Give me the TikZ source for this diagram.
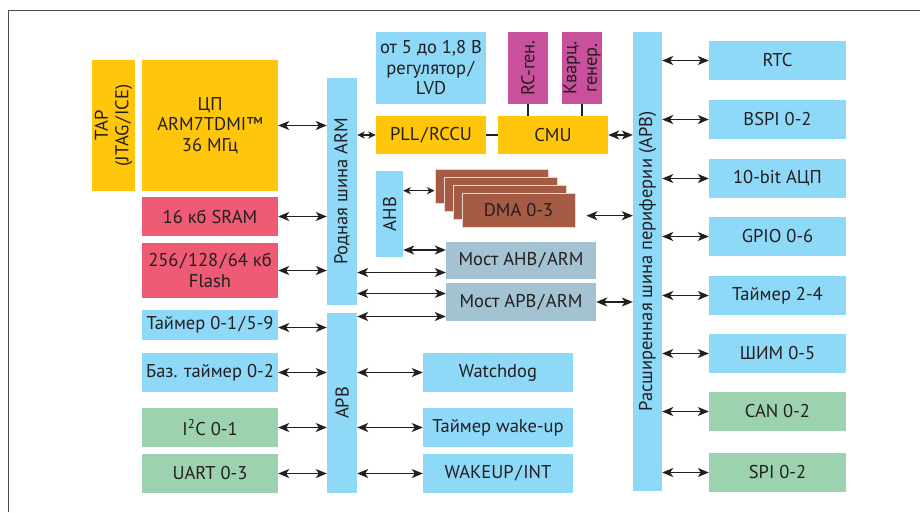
\documentclass[tikz,border=0pt]{standalone}
\usepackage{fontspec}
\setmainfont{PT Sans}
\usepackage{tikz}
\usetikzlibrary{arrows.meta}

\definecolor{busblue}{HTML}{8ED8F8}
\definecolor{cpuyellow}{HTML}{FFC60B}
\definecolor{genpink}{HTML}{C8509C}
\definecolor{memred}{HTML}{EF5B74}
\definecolor{dmabrown}{HTML}{A65B45}
\definecolor{bridgegray}{HTML}{A3C3D3}
\definecolor{iogreen}{HTML}{9CD3AE}
\definecolor{txtdark}{HTML}{231F20}
\definecolor{framegray}{HTML}{4A4A4A}

\newcommand{\slashsp}{\kern1.5pt/\kern1.5pt}

\tikzset{
  blk/.style={rectangle, inner sep=0pt, align=center, text=txtdark,
    font=\fontsize{18.5}{20.5}\selectfont},
  bluebox/.style={blk, fill=busblue},
  yelbox/.style={blk, fill=cpuyellow},
  redbox/.style={blk, fill=memred},
  greenbox/.style={blk, fill=iogreen},
  genbox/.style={blk, fill=genpink, rotate=90, minimum width=72pt, minimum height=40pt},
  dmabox/.style={blk, fill=dmabrown, draw=white!75!dmabrown, line width=0.8pt,
    minimum width=113pt, minimum height=34pt},
  bridgebox/.style={blk, fill=bridgegray, minimum width=150pt},
  periph/.style={bluebox, minimum width=137pt, minimum height=39pt},
  biarr/.style={{Stealth[length=11pt,width=9pt,inset=3pt]}-{Stealth[length=11pt,width=9pt,inset=3pt]},
    line width=1.3pt, draw=txtdark},
  smallbiarr/.style={{Stealth[length=7.5pt,width=7pt,inset=2pt]}-{Stealth[length=7.5pt,width=7pt,inset=2pt]},
    line width=1.3pt, draw=txtdark},
}

\begin{document}
\begin{tikzpicture}[x=1pt,y=-1pt]
  \useasboundingbox (0,0) rectangle (920,512);

  % Parameters
  \def\lw{136pt}   % width of left column boxes
  \def\rowh{39pt}  % height of one peripheral row

  % --- Frame ---
  \draw[line width=1.5pt, framegray] (8.5,512) -- (8.5,10.5) -- (920,10.5);

  % --- Core and memories ---
  % rotated nodes: north = left side, south = right side
  \node[yelbox, rotate=90, minimum width=131pt, minimum height=43pt] (tap) at (113.5,125.5)
    {TAP\\(JTAG\slashsp ICE)};
  \node[yelbox, minimum width=\lw, minimum height=131pt] (cpu) at (210,125.5)
    {ЦП\\ARM7TDMI™\\36 МГц};
  \node[redbox, minimum width=\lw, minimum height=\rowh] (sram) at (210,216.5) {16 кб SRAM};
  \node[redbox, minimum width=\lw, minimum height=55pt] (flash) at (210,270.5)
    {256\slashsp 128\slashsp 64 кб\\Flash};
  \node[bluebox, minimum width=\lw, minimum height=30pt] (tmr0) at (210,324.5) {Таймер 0-1\slashsp 5-9};
  \node[bluebox, minimum width=\lw, minimum height=\rowh] (basetmr) at (210,372.5) {Баз. таймер 0-2};
  \node[greenbox, minimum width=\lw, minimum height=\rowh] (i2c) at (210,427.5) {I\textsuperscript{2}C 0-1};
  \node[greenbox, minimum width=\lw, minimum height=\rowh] (uart) at (210,473.5) {UART 0-3};

  % --- Buses ---
  \node[bluebox, rotate=90, minimum width=227pt, minimum height=30pt] (armbus) at (342,191.5)
    {Родная шина ARM};
  \node[bluebox, rotate=90, minimum width=180pt, minimum height=30pt] (apbbus) at (342,403) {APB};
  \node[bluebox, rotate=90, minimum width=86pt, minimum height=27pt] (ahb) at (389.5,214) {AHB};
  \node[bluebox, rotate=90, minimum width=459pt, minimum height=29pt] (pbus) at (647.5,261.5)
    {Расширенная шина периферии (APB)};

  % --- Clock and power ---
  \node[bluebox, minimum width=110pt, minimum height=72pt] (reg) at (431,68)
    {от 5 до 1,8 В\\регулятор\slashsp\\LVD};
  \node[genbox] (rcgen) at (528,68) {RC-ген.};
  \node[genbox] (xtal) at (582,68) {Кварц.\\генер.};
  \node[yelbox, minimum width=110pt, minimum height=38pt] (pll) at (431,135) {PLL\slashsp RCCU};
  \node[yelbox, minimum width=110pt, minimum height=38pt] (cmu) at (553,135) {CMU};

  % --- DMA stack and bridges ---
  \node[dmabox] (dma1) at (491.5,186) {};
  \node[dmabox] (dma2) at (500.5,194) {};
  \node[dmabox] (dma3) at (509.5,202) {};
  \node[dmabox] (dma4) at (518.5,210) {DMA 0-3};
  \node[bridgebox, minimum height=37pt] (brahb) at (521,260.5) {Мост AHB\slashsp ARM};
  \node[bridgebox, minimum height=38pt] (brapb) at (521,302) {Мост APB\slashsp ARM};

  % --- Devices on APB ---
  \node[bluebox, minimum width=150pt, minimum height=\rowh] (wdog) at (498,372.5) {Watchdog};
  \node[bluebox, minimum width=150pt, minimum height=\rowh] (wktmr) at (498,427.5) {Таймер wake-up};
  \node[bluebox, minimum width=150pt, minimum height=\rowh] (wkint) at (498,473.5) {WAKEUP\slashsp INT};

  % --- Peripherals ---
  \node[periph] (rtc) at (777.5,60.5) {RTC};
  \node[periph] (bspi) at (777.5,119.5) {BSPI 0-2};
  \node[periph] (adc) at (777.5,178.5) {10-bit АЦП};
  \node[periph] (gpio) at (777.5,236.5) {GPIO 0-6};
  \node[periph] (tmr24) at (777.5,295.5) {Таймер 2-4};
  \node[periph] (pwm) at (777.5,353.5) {ШИМ 0-5};
  \node[periph, fill=iogreen] (can) at (777.5,411.5) {CAN 0-2};
  \node[periph, fill=iogreen] (spi) at (777.5,472.5) {SPI 0-2};

  % --- Connections, left side ---
  \draw[biarr] (cpu.east) -- (cpu.east -| armbus.north);
  \draw[biarr] (sram.east) -- (sram.east -| armbus.north);
  \draw[biarr] (flash.east) -- (flash.east -| armbus.north);
  \draw[biarr] ([yshift=-3pt]tmr0.east) -- ([yshift=-3pt]tmr0.east -| apbbus.north);
  \draw[biarr] (basetmr.east) -- (basetmr.east -| apbbus.north);
  \draw[biarr] (i2c.east) -- (i2c.east -| apbbus.north);
  \draw[biarr] (uart.east) -- (uart.east -| apbbus.north);

  \draw[biarr] (apbbus.south |- wdog.west) -- (wdog.west);
  \draw[biarr] (apbbus.south |- wktmr.west) -- (wktmr.west);
  \draw[biarr] (apbbus.south |- wkint.west) -- (wkint.west);

  % --- Clock connections ---
  \draw[smallbiarr] (armbus.south |- pll.west) -- (pll.west);
  \draw[line width=1.3pt, txtdark] (pll.east) -- (cmu.west);
  \draw[line width=1.3pt, txtdark] (rcgen.west) -- (rcgen.west |- cmu.north);
  \draw[line width=1.3pt, txtdark] (xtal.west) -- (xtal.west |- cmu.north);
  \draw[biarr] (cmu.east) -- (cmu.east -| pbus.north);

  % --- AHB, DMA and bridges ---
  \coordinate (dmain) at ([yshift=-4.7pt]dma1.west);
  \coordinate (dmaout) at ([xshift=11pt,yshift=-5.7pt]dma4.east);
  \coordinate (ahbin) at ([yshift=10.5pt]brahb.west);
  \coordinate (armahb) at ([yshift=-12pt]brahb.west);
  \coordinate (armapb) at ([yshift=8.5pt]brapb.west);
  \coordinate (apbapb) at ([yshift=-14.5pt]brapb.west);
  \draw[smallbiarr] (ahb.south |- dmain) -- (dmain);
  \draw[biarr] (dmaout) -- (dmaout -| pbus.north);
  \draw[biarr] (ahb.south |- ahbin) -- (ahbin);
  \draw[biarr] (armbus.south |- armahb) -- (armahb);
  \draw[biarr] (armbus.south |- armapb) -- (armapb);
  \draw[biarr] (apbbus.south |- apbapb) -- (apbapb);
  \draw[biarr] (brapb.east) -- (brapb.east -| pbus.north);

  % --- Peripheral bus connections ---
  \draw[biarr] (pbus.south |- rtc.west) -- (rtc.west);
  \draw[biarr] (pbus.south |- bspi.west) -- (bspi.west);
  \draw[biarr] (pbus.south |- adc.west) -- (adc.west);
  \draw[biarr] (pbus.south |- gpio.west) -- (gpio.west);
  \draw[biarr] (pbus.south |- tmr24.west) -- (tmr24.west);
  \draw[biarr] (pbus.south |- pwm.west) -- (pwm.west);
  \draw[biarr] (pbus.south |- can.west) -- (can.west);
  \draw[biarr] (pbus.south |- spi.west) -- (spi.west);
\end{tikzpicture}
\end{document}
